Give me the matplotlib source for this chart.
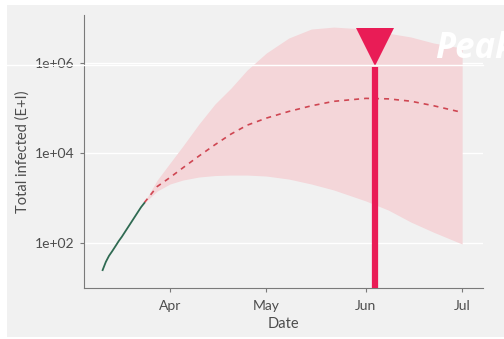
import datetime as dt
import matplotlib
matplotlib.use("Agg")
import matplotlib.pyplot as plt
import matplotlib.dates as mdates
from matplotlib.patches import Rectangle
from matplotlib.lines import Line2D

# observed cases (daily)
obs_dates = [dt.date(2020, 3, d) for d in range(11, 25)]
obs_values = [25, 38, 52, 66, 85, 110, 138, 178, 229, 295, 380, 490, 630, 775]

# projection (median and band)
proj_dates = [dt.date(2020, 3, 24), dt.date(2020, 3, 28), dt.date(2020, 4, 1), dt.date(2020, 4, 5),
              dt.date(2020, 4, 10), dt.date(2020, 4, 15), dt.date(2020, 4, 20), dt.date(2020, 4, 25),
              dt.date(2020, 5, 1), dt.date(2020, 5, 8), dt.date(2020, 5, 15), dt.date(2020, 5, 22),
              dt.date(2020, 6, 1), dt.date(2020, 6, 8), dt.date(2020, 6, 15), dt.date(2020, 6, 22),
              dt.date(2020, 7, 1)]
proj_median = [790, 1800, 2860, 4690, 8570, 15300, 26400, 41500, 59700, 84000, 112000, 141000,
               164000, 160000, 142000, 113000, 80000]
proj_upper = [815, 2500, 6000, 14300, 44100, 123000, 278000, 698000, 1670000, 3600000, 5700000,
              6300000, 5700000, 4600000, 3800000, 2800000, 2150000]
proj_lower = [775, 1430, 2050, 2510, 2930, 3160, 3240, 3240, 3080, 2640, 2050, 1510, 860, 540,
              293, 175, 95]

peak_date = dt.date(2020, 6, 4)
peak_bar_top = 8.0e5
peak_marker_y = 2.33e6

month_ticks = [dt.date(2020, 4, 1), dt.date(2020, 5, 1), dt.date(2020, 6, 1), dt.date(2020, 7, 1)]
month_labels = ["Apr", "May", "Jun", "Jul"]
y_ticks = [1e2, 1e4, 1e6]
y_labels = ["1e+02", "1e+04", "1e+06"]

bg = "#f1f1f1"
txt = "#4d4d4d"
red = "#e91c56"

plt.rcParams["font.family"] = ["Lato", "DejaVu Sans"]

fig = plt.figure(figsize=(5.04, 3.39), dpi=100, facecolor="white")
fig.patches.append(Rectangle((7 / 504, 2 / 339), 1.0, 332 / 339, transform=fig.transFigure,
                             facecolor=bg, edgecolor="none", zorder=-5))

ax = fig.add_axes([84 / 504, 51 / 339, 399 / 504, 273 / 339])
ax.set_facecolor(bg)
ax.set_yscale("log")

ax.fill_between(proj_dates, proj_lower, proj_upper, color="#f4d6d9", linewidth=0, zorder=1)
ax.plot(proj_dates, proj_median, color="#cf4652", linestyle=(0, (3, 3)), linewidth=1.2, zorder=2)
ax.plot(obs_dates, obs_values, color="#2f6a52", linewidth=1.3, zorder=2)

ax.vlines(peak_date, 10, peak_bar_top, color=red, linewidth=4.5, zorder=3)
ax.plot([peak_date], [peak_marker_y], marker="v", markersize=27, color=red,
        markeredgewidth=0, clip_on=False, zorder=4)

ax.set_xlim(mdates.date2num(dt.date(2020, 3, 5)) + 0.2, mdates.date2num(dt.date(2020, 7, 7)) + 0.5)
ax.set_ylim(10, 1.17e7)

ax.set_xticks(month_ticks)
ax.set_xticklabels(month_labels)
ax.set_yticks(y_ticks)
ax.set_yticklabels(y_labels)
ax.minorticks_off()
ax.grid(axis="y", color="white", linewidth=1.0)
ax.set_axisbelow(True)

for s in ["top", "right"]:
    ax.spines[s].set_visible(False)
for s in ["left", "bottom"]:
    ax.spines[s].set_color("#7a7a7a")
    ax.spines[s].set_linewidth(0.8)
ax.tick_params(colors="#7a7a7a", labelcolor=txt, labelsize=10, length=3, width=0.8)
ax.tick_params(axis="x", pad=6)

ax.set_xlabel("Date", color=txt, fontsize=10.5, labelpad=3)
ax.set_ylabel("Total infected (E+I)", color=txt, fontsize=10.5, labelpad=4)

# white line across the 1e+06 level
fig.lines.append(Line2D([7 / 504, 483 / 504], [274.5 / 339, 274.5 / 339], transform=fig.transFigure,
                        color="white", linewidth=1.0, zorder=10))

fig.text(435 / 504, 281 / 339, "Peak", color="white", fontsize=25, fontweight="bold",
         fontstyle="italic", va="baseline", ha="left", family=["Open Sans", "DejaVu Sans"], zorder=11)

fig.savefig("out.png", dpi=100, facecolor="white")
